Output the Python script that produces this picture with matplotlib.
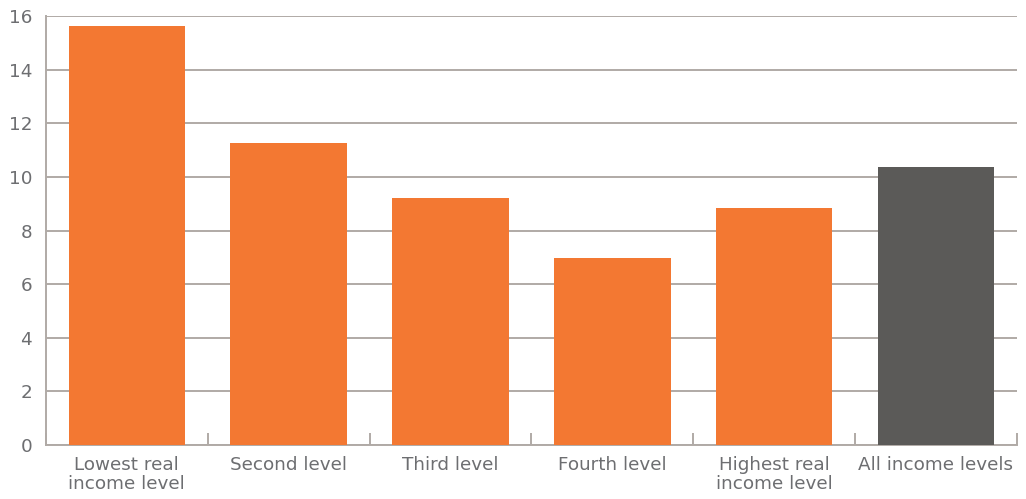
import numpy as np
import matplotlib.pyplot as plt

categories = ['Lowest real\nincome level', 'Second level', 'Third level',
              'Fourth level', 'Highest real\nincome level', 'All income levels']
values = [15.63, 11.27, 9.22, 6.97, 8.84, 10.37]
bar_colors = ['#F37832'] * 5 + ['#5B5A58']

grid_col = '#B0AAA6'
text_col = '#6D6E71'

fig = plt.figure(figsize=(10.26, 4.99), dpi=100)
ax = fig.add_axes([0.0448, 0.108, 0.9462, 0.860])

x = np.arange(len(categories))
ax.bar(x, values, width=0.72, color=bar_colors, zorder=3)

ax.set_xlim(-0.5, len(categories) - 0.5)
ax.set_ylim(0, 16)
ax.set_yticks(np.arange(0, 17, 2))
ax.yaxis.grid(True, color=grid_col, linewidth=1.4, zorder=0)

ax.set_xticks(x)
ax.set_xticklabels(categories, fontsize=13.2, color=text_col, linespacing=1.05)
ax.tick_params(axis='x', length=0, pad=8)
ax.set_xticks(np.arange(-0.5, len(categories)), minor=True)
ax.tick_params(axis='x', which='minor', direction='in', length=9, width=1.4, color=grid_col)
ax.tick_params(axis='y', length=0, labelsize=13.2, labelcolor=text_col, pad=10)

for s in ['top', 'right']:
    ax.spines[s].set_visible(False)
for s in ['left', 'bottom']:
    ax.spines[s].set_color(grid_col)
    ax.spines[s].set_linewidth(1.4)

fig.savefig('out.png', dpi=100)
